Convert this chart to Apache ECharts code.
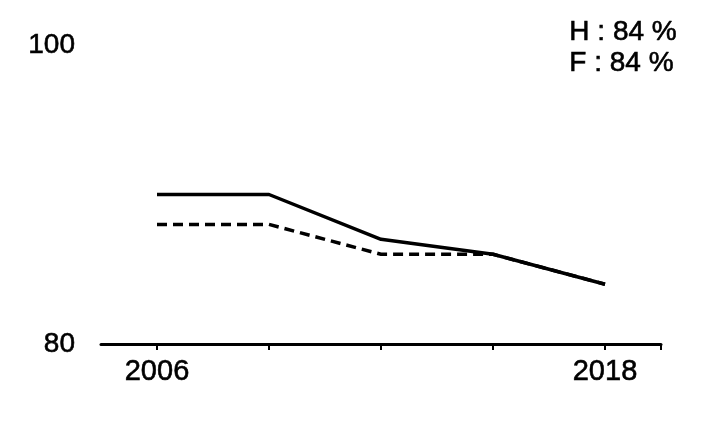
<!DOCTYPE html>
<html><head><meta charset="utf-8">
<script src="https://cdn.jsdelivr.net/npm/echarts@6/dist/echarts.min.js"></script>
<style>html,body{margin:0;padding:0;background:#fff}#c{width:709px;height:421px}</style>
</head><body><div id="c"></div>
<script>
var years = [2006, 2009, 2012, 2015, 2018];
var hommes = [90, 90, 87, 86, 84];
var femmes = [88, 88, 86, 86, 84];
var xLabels = [2006, 2018];
var yLabels = [80, 100];
var noteLines = ['H : 84 %', 'F : 84 %'];

function pairs(v){ return years.map(function(y,i){ return [y, v[i]]; }); }
var font = 'Liberation Sans, Arial, sans-serif';
var chart = echarts.init(document.getElementById('c'));
chart.setOption({
  animation: false,
  grid: {left: 101, right: 48, top: 45, bottom: 77},
  graphic: [{type: 'text', right: 32, top: 17, style: {text: noteLines.join('\n'), font: '28px ' + font, fill: '#000', stroke: '#000', lineWidth: 0.6, align: 'right', lineHeight: 31}}],
  xAxis: {type: 'value', min: 2004.5, max: 2019.5,
    axisLine: {lineStyle: {color: '#000', width: 3}},
    axisTick: {show: true, customValues: years.concat([2019.5]), length: 6, lineStyle: {color: '#000', width: 2}},
    axisLabel: {customValues: xLabels, color: '#000', fontSize: 29, fontFamily: font, margin: 13, textBorderColor: '#000', textBorderWidth: 0.6, formatter: function(v){return String(v);}},
    splitLine: {show: false}},
  yAxis: {type: 'value', min: 80, max: 100,
    axisLine: {show: false}, axisTick: {show: false},
    axisLabel: {customValues: yLabels, color: '#000', fontSize: 28, fontFamily: font, margin: 26, textBorderColor: '#000', textBorderWidth: 0.6},
    splitLine: {show: false}},
  series: [
    {type: 'line', data: pairs(femmes), symbol: 'none', lineStyle: {color: '#000', width: 3.5, type: [10, 6]}},
    {type: 'line', data: pairs(hommes), symbol: 'none', lineStyle: {color: '#000', width: 3.5}}
  ]
});
</script></body></html>
